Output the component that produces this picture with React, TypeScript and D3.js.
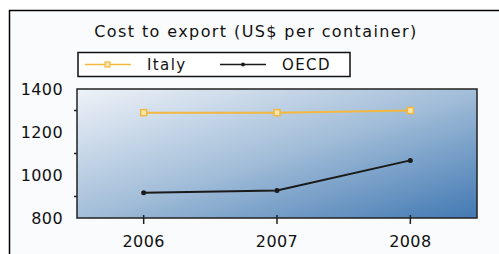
import React, { useRef, useEffect } from 'react';
import * as d3 from 'd3';

const years = ['2006', '2007', '2008'];
const italy = [1290, 1290, 1300];
const oecd = [918, 928, 1068];
const yTicks = [800, 1000, 1200, 1400];
const yMinor = [900, 1100, 1300];
const seriesNames = ['Italy', 'OECD'];

const W = 499;
const H = 254;
const FONT = '"DejaVu Sans", Verdana, sans-serif';

const App = () => {
  const svgRef = useRef<SVGSVGElement>(null);

  useEffect(() => {
    const svg = d3.select(svgRef.current);
    svg.selectAll('*').remove();

    const margin = { top: 89, right: 22, bottom: 36, left: 77 };
    const width = W - margin.left - margin.right;
    const height = H - margin.top - margin.bottom;

    const defs = svg.append('defs');
    const grad = defs.append('linearGradient')
      .attr('id', 'plotbg')
      .attr('x1', '0%').attr('y1', '0%')
      .attr('x2', '100%').attr('y2', '100%');
    grad.append('stop').attr('offset', '0%').attr('stop-color', '#eef2f8');
    grad.append('stop').attr('offset', '50%').attr('stop-color', '#a3bed9');
    grad.append('stop').attr('offset', '100%').attr('stop-color', '#4279b3');

    // outer frame
    svg.append('rect')
      .attr('x', 9.5).attr('y', 10.5)
      .attr('width', W + 10).attr('height', H + 10)
      .attr('fill', '#fafbfd')
      .attr('stroke', '#000')
      .attr('stroke-width', 1.5);

    svg.append('text')
      .attr('x', 256).attr('y', 37)
      .attr('text-anchor', 'middle')
      .attr('font-family', FONT)
      .attr('font-size', 16)
      .attr('letter-spacing', 1.4)
      .attr('fill', '#111')
      .text('Cost to export (US$ per container)');

    const g = svg.append('g').attr('transform', `translate(${margin.left},${margin.top})`);

    const x = d3.scaleBand().domain(years).range([0, width]);
    const y = d3.scaleLinear().domain([800, 1400]).range([height, 0]);
    const cx = (d: string) => (x(d) ?? 0) + x.bandwidth() / 2;

    g.append('rect')
      .attr('width', width).attr('height', height)
      .attr('fill', 'url(#plotbg)')
      .attr('stroke', '#222')
      .attr('stroke-width', 1.5);

    // y ticks
    g.selectAll('.ymaj').data(yTicks).enter().append('text')
      .attr('x', -14).attr('y', d => y(d))
      .attr('dy', '0.36em')
      .attr('text-anchor', 'end')
      .attr('font-family', FONT).attr('font-size', 16)
      .attr('letter-spacing', 0.4)
      .attr('fill', '#111')
      .text(d => d);
    g.selectAll('.ymin').data(yMinor).enter().append('line')
      .attr('x1', -3).attr('x2', 0)
      .attr('y1', d => y(d)).attr('y2', d => y(d))
      .attr('stroke', '#222').attr('stroke-width', 1.5);

    // x ticks
    g.selectAll('.xt').data(years).enter().append('line')
      .attr('x1', d => cx(d)).attr('x2', d => cx(d))
      .attr('y1', height - 3).attr('y2', height + 6)
      .attr('stroke', '#222').attr('stroke-width', 1.5);
    g.selectAll('.xl').data(years).enter().append('text')
      .attr('x', d => cx(d)).attr('y', height + 23)
      .attr('dy', '0.36em')
      .attr('text-anchor', 'middle')
      .attr('font-family', FONT).attr('font-size', 16)
      .attr('letter-spacing', 0.4)
      .attr('fill', '#111')
      .text(d => d);

    const line = d3.line<number>()
      .x((_, i) => cx(years[i]))
      .y(d => y(d));

    g.append('path').datum(italy)
      .attr('d', line).attr('fill', 'none')
      .attr('stroke', '#f4b740').attr('stroke-width', 2);
    g.selectAll('.im').data(italy).enter().append('rect')
      .attr('x', (_, i) => cx(years[i]) - 3)
      .attr('y', d => y(d) - 3)
      .attr('width', 6).attr('height', 6)
      .attr('fill', '#fde7b0').attr('stroke', '#f4b740').attr('stroke-width', 1.5);

    g.append('path').datum(oecd)
      .attr('d', line).attr('fill', 'none')
      .attr('stroke', '#1a1a1a').attr('stroke-width', 2);
    g.selectAll('.om').data(oecd).enter().append('circle')
      .attr('cx', (_, i) => cx(years[i]))
      .attr('cy', d => y(d))
      .attr('r', 2.5)
      .attr('fill', '#1a1a1a');

    // legend
    const lg = svg.append('g');
    lg.append('rect')
      .attr('x', 78).attr('y', 52.5)
      .attr('width', 272).attr('height', 24)
      .attr('fill', '#fff').attr('stroke', '#111').attr('stroke-width', 1.5);
    const colors = ['#f4b740', '#1a1a1a'];
    const offsets = [85, 220];
    seriesNames.forEach((name, i) => {
      const ox = offsets[i];
      lg.append('line')
        .attr('x1', ox).attr('x2', ox + 46)
        .attr('y1', 64.5).attr('y2', 64.5)
        .attr('stroke', colors[i]).attr('stroke-width', 1.5);
      if (i === 0) {
        lg.append('rect')
          .attr('x', ox + 20).attr('y', 62)
          .attr('width', 5).attr('height', 5)
          .attr('fill', '#fde7b0').attr('stroke', colors[i]).attr('stroke-width', 1.2);
      } else {
        lg.append('circle')
          .attr('cx', ox + 23).attr('cy', 64.5).attr('r', 2)
          .attr('fill', colors[i]);
      }
      lg.append('text')
        .attr('x', ox + 62).attr('y', 64.5)
        .attr('dy', '0.36em')
        .attr('font-family', FONT).attr('font-size', 15)
        .attr('letter-spacing', 1.4)
        .attr('fill', '#111')
        .text(name);
    });
  }, []);

  return (
    <svg ref={svgRef} width={W} height={H}
      style={{ position: 'absolute', left: 0, top: 0, background: '#fff' }} />
  );
};

export default App;
